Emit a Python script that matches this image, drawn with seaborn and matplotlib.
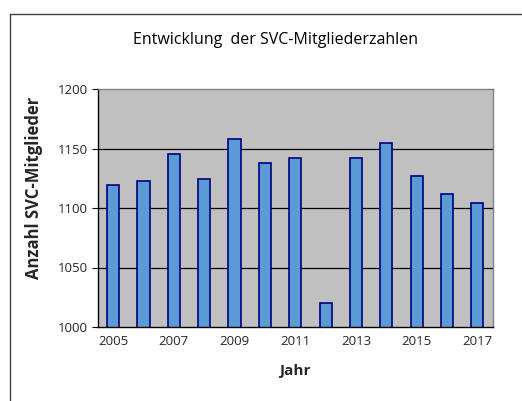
import matplotlib
matplotlib.use("Agg")
import matplotlib.pyplot as plt
import seaborn as sns
import pandas as pd
from matplotlib.lines import Line2D

years = [2005, 2006, 2007, 2008, 2009, 2010, 2011, 2012, 2013, 2014, 2015, 2016, 2017]
members = [1119, 1123, 1145, 1124, 1158, 1138, 1142, 1020, 1142, 1155, 1127, 1112, 1104]
ytick_vals = [1000, 1050, 1100, 1150, 1200]

sns.set_theme(style="white")
plt.rcParams['font.family'] = ['Open Sans', 'DejaVu Sans']

df = pd.DataFrame({"Jahr": [str(y) for y in years], "Mitglieder": members})

fig = plt.figure(figsize=(5.22, 4.01), dpi=100)
fig.patch.set_facecolor("white")
# chart-area border (cut off at right/bottom)
fig.add_artist(Line2D([9.5/522, 9.5/522], [0, 1 - 13.5/401], transform=fig.transFigure,
                      color="#404040", linewidth=1.0))
fig.add_artist(Line2D([9.5/522, 1], [1 - 13.5/401, 1 - 13.5/401], transform=fig.transFigure,
                      color="#404040", linewidth=1.0))

ax = fig.add_axes([98/522, 1 - 327/401, (492.5 - 98)/522, (327 - 89)/401])
ax.set_facecolor("#C0C0C0")
sns.barplot(data=df, x="Jahr", y="Mitglieder", ax=ax, color="#5B9BD5",
            edgecolor="#000080", linewidth=1.2, width=0.4, saturation=1)

ax.set_ylim(1000, 1200)
ax.set_xlim(-0.5, len(years) - 0.5)
ax.set_yticks(ytick_vals)
ax.set_yticklabels([str(v) for v in ytick_vals], fontsize=9.5)
for v in ytick_vals[1:-1]:
    ax.axhline(v, color="black", linewidth=0.9, zorder=0.5)
ax.set_axisbelow(True)

ax.set_xticks([i for i in range(len(years)) if i % 2 == 0])
ax.set_xticklabels([str(years[i]) for i in range(len(years)) if i % 2 == 0], fontsize=9.5)
ax.tick_params(axis="x", which="major", length=0, pad=6)
ax.set_xticks([i - 0.5 for i in range(len(years) + 1)], minor=True)
ax.tick_params(axis="x", which="minor", length=4, width=0.8, color="black", direction="out")
ax.tick_params(axis="y", length=4, width=0.8, color="black", direction="out", left=True, pad=3)

for s in ["left", "bottom"]:
    ax.spines[s].set_color("black")
    ax.spines[s].set_linewidth(1.0)
for s in ["top", "right"]:
    ax.spines[s].set_color("#808080")
    ax.spines[s].set_linewidth(1.0)

ax.set_xlabel("Jahr", fontsize=11, fontweight="bold", labelpad=11)
ax.set_ylabel("Anzahl SVC-Mitglieder", fontsize=12, fontweight="bold")
ax.yaxis.set_label_coords(-0.14, 0.585)

fig.text(0.527, 1 - 40/401, "Entwicklung  der SVC-Mitgliederzahlen", ha="center", va="center",
         fontsize=11.5, color="black")

fig.savefig("out.png", dpi=100)
